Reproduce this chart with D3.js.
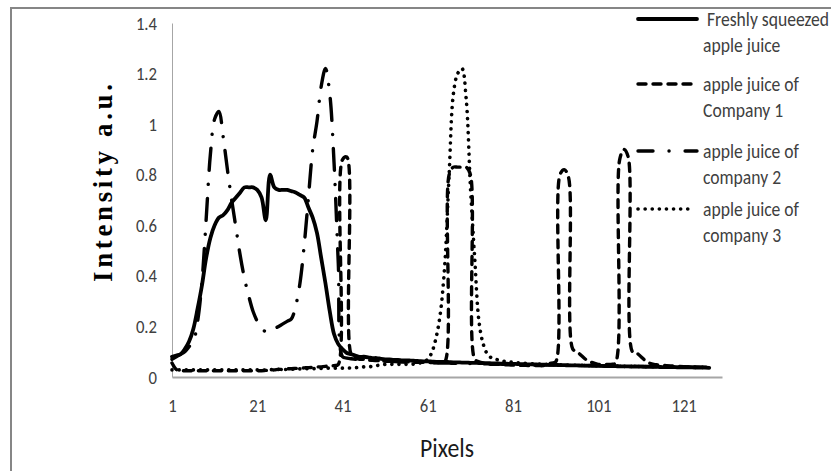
<!DOCTYPE html>
<html>
<head>
<meta charset="utf-8">
<script src="https://cdn.jsdelivr.net/npm/d3@7"></script>
<style>
	body { margin: 0; background: #fff; }
</style>
</head>
<body>
<div id="chart"></div>
<script>
// intensity profiles, one value per pixel (pixel 1 .. 127)
var freshJuice = [
	0.08, 0.085, 0.09, 0.11, 0.14, 0.19, 0.27, 0.36, 0.47, 0.55,
	0.6, 0.63, 0.64, 0.66, 0.69, 0.71, 0.73, 0.75, 0.75, 0.75,
	0.74, 0.71, 0.62, 0.8, 0.75, 0.74, 0.74, 0.74, 0.735, 0.73,
	0.72, 0.71, 0.67, 0.63, 0.57, 0.47, 0.37, 0.26, 0.17, 0.13,
	0.11, 0.095, 0.09, 0.085, 0.08, 0.08, 0.078, 0.075, 0.075, 0.072,
	0.07, 0.07, 0.068, 0.068, 0.066, 0.066, 0.065, 0.064, 0.063, 0.062,
	0.062, 0.061, 0.06, 0.06, 0.06, 0.059, 0.058, 0.058, 0.057, 0.057,
	0.056, 0.056, 0.055, 0.055, 0.055, 0.054, 0.054, 0.053, 0.053, 0.052,
	0.052, 0.051, 0.051, 0.05, 0.05, 0.05, 0.049, 0.049, 0.048, 0.048,
	0.048, 0.047, 0.047, 0.046, 0.046, 0.046, 0.045, 0.045, 0.045, 0.044,
	0.044, 0.044, 0.043, 0.043, 0.043, 0.042, 0.042, 0.042, 0.041, 0.041,
	0.041, 0.04, 0.04, 0.04, 0.04, 0.039, 0.039, 0.039, 0.039, 0.038,
	0.038, 0.038, 0.038, 0.037, 0.037, 0.037, 0.036
];

var company1 = [
	0.055, 0.03, 0.025, 0.025, 0.025, 0.025, 0.025, 0.025, 0.025, 0.025,
	0.025, 0.025, 0.025, 0.025, 0.025, 0.025, 0.025, 0.025, 0.025, 0.025,
	0.025, 0.025, 0.026, 0.027, 0.028, 0.03, 0.03, 0.032, 0.033, 0.034,
	0.035, 0.036, 0.037, 0.038, 0.04, 0.04, 0.042, 0.045, 0.045, 0.05,
	0.86, 0.87, 0.09, 0.075, 0.07, 0.07, 0.068, 0.066, 0.065, 0.064,
	0.063, 0.062, 0.061, 0.06, 0.06, 0.06, 0.059, 0.058, 0.058, 0.058,
	0.057, 0.057, 0.057, 0.058, 0.06, 0.8, 0.83, 0.83, 0.83, 0.83,
	0.8, 0.07, 0.06, 0.055, 0.052, 0.05, 0.05, 0.05, 0.048, 0.048,
	0.047, 0.047, 0.046, 0.046, 0.045, 0.045, 0.045, 0.045, 0.05, 0.055,
	0.06, 0.8, 0.82, 0.79, 0.11, 0.1, 0.085, 0.07, 0.06, 0.055,
	0.05, 0.05, 0.05, 0.05, 0.055, 0.86, 0.9, 0.87, 0.1, 0.095,
	0.08, 0.065, 0.055, 0.05, 0.048, 0.046, 0.045, 0.044, 0.043, 0.042,
	0.041, 0.04, 0.04, 0.039, 0.038, 0.038, 0.037
];

var company2 = [
	0.07, 0.08, 0.09, 0.1, 0.12, 0.14, 0.22, 0.37, 0.62, 0.88,
	1.02, 1.05, 0.95, 0.82, 0.7, 0.59, 0.48, 0.39, 0.32, 0.26,
	0.22, 0.19, 0.18, 0.18, 0.19, 0.2, 0.21, 0.22, 0.23, 0.28,
	0.37, 0.52, 0.71, 0.9, 1.01, 1.15, 1.22, 1.12, 0.85, 0.45,
	0.08, 0.075, 0.072, 0.07, 0.07, 0.068, 0.067, 0.066, 0.065, 0.064,
	0.063, 0.062, 0.061, 0.06, 0.06, 0.059, 0.058, 0.058, 0.057, 0.057,
	0.056, 0.056, 0.056, 0.055, 0.055, 0.055, 0.054, 0.054, 0.054, 0.053,
	0.053, 0.053, 0.052, 0.052, 0.052, 0.051, 0.051, 0.051, 0.05, 0.05,
	0.05, 0.05, 0.049, 0.049, 0.049, 0.048, 0.048, 0.048, 0.048, 0.047,
	0.047, 0.047, 0.047, 0.046, 0.046, 0.046, 0.046, 0.045, 0.045, 0.045,
	0.045, 0.044, 0.044, 0.044, 0.044, 0.043, 0.043, 0.043, 0.043, 0.042,
	0.042, 0.042, 0.042, 0.041, 0.041, 0.041, 0.041, 0.04, 0.04, 0.04,
	0.04, 0.04, 0.039, 0.039, 0.039, 0.039, 0.038
];

var company3 = [
	0.028, 0.028, 0.028, 0.028, 0.028, 0.028, 0.028, 0.028, 0.028, 0.028,
	0.028, 0.028, 0.028, 0.028, 0.028, 0.028, 0.028, 0.028, 0.028, 0.028,
	0.028, 0.028, 0.028, 0.029, 0.029, 0.03, 0.03, 0.03, 0.031, 0.031,
	0.032, 0.032, 0.033, 0.033, 0.034, 0.034, 0.035, 0.035, 0.035, 0.035,
	0.035, 0.035, 0.036, 0.037, 0.038, 0.04, 0.04, 0.042, 0.045, 0.048,
	0.05, 0.05, 0.05, 0.05, 0.05, 0.05, 0.05, 0.052, 0.055, 0.06,
	0.07, 0.1, 0.16, 0.26, 0.45, 0.8, 1.12, 1.2, 1.22, 1.1,
	0.75, 0.47, 0.22, 0.13, 0.09, 0.075, 0.07, 0.065, 0.062, 0.06,
	0.058, 0.056, 0.055, 0.054, 0.053, 0.052, 0.051, 0.05, 0.05, 0.049,
	0.049, 0.048, 0.048, 0.047, 0.047, 0.046, 0.046, 0.045, 0.045, 0.045,
	0.044, 0.044, 0.044, 0.043, 0.043, 0.043, 0.042, 0.042, 0.042, 0.042,
	0.041, 0.041, 0.041, 0.041, 0.04, 0.04, 0.04, 0.04, 0.039, 0.039,
	0.039, 0.039, 0.038, 0.038, 0.038, 0.038, 0.037
];

var seriesLabels = [
	['Freshly squeezed', 'apple juice'],
	['apple juice of', 'Company 1'],
	['apple juice of', 'company 2'],
	['apple juice of', 'company 3']
];

var xTickValues = [1, 21, 41, 61, 81, 101, 121];
var yTickValues = [0, 0.2, 0.4, 0.6, 0.8, 1, 1.2, 1.4];

var width = 831;
var height = 471;
var labelFont = "Carlito, Lato, sans-serif";
// Lato is wider than the Calibri of the original, squeeze it a little
var narrow = 'scale(0.88,1)';

var svg = d3.select('#chart')
	.append('svg')
	.attr('width', width)
	.attr('height', height);

// chart frame, cut by the right and bottom edge of the picture
svg.append('rect')
	.attr('x', 11)
	.attr('y', 8)
	.attr('width', 860)
	.attr('height', 500)
	.attr('fill', 'none')
	.attr('stroke', '#868686')
	.attr('stroke-width', 2);

var x = d3.scaleLinear().domain([1, 130]).range([172, 722]);
var y = d3.scaleLinear().domain([0, 1.4]).range([377, 23]);

var xAxis = d3.axisBottom(x)
	.tickValues(xTickValues)
	.tickSize(0)
	.tickPadding(22)
	.tickFormat(function(d) { return d; });

var gx = svg.append('g')
	.attr('transform', 'translate(0,' + y(0) + ')')
	.call(xAxis);
gx.select('.domain').attr('stroke', '#a6a6a6').attr('stroke-width', 2);
gx.selectAll('text')
	.attr('font-family', labelFont)
	.attr('font-size', 19)
	.attr('fill', '#404040')
	.attr('transform', narrow);

var yAxis = d3.axisLeft(y)
	.tickValues(yTickValues)
	.tickSize(0)
	.tickPadding(17)
	.tickFormat(function(d) { return String(d); });

var gy = svg.append('g')
	.attr('transform', 'translate(' + x(1) + ',0)')
	.call(yAxis);
gy.select('.domain').attr('stroke', '#a6a6a6').attr('stroke-width', 1);
gy.selectAll('text')
	.attr('font-family', labelFont)
	.attr('font-size', 19)
	.attr('fill', '#404040')
	.attr('transform', narrow);

// axis titles
svg.append('text')
	.attr('transform', 'translate(447,457) ' + narrow)
	.attr('text-anchor', 'middle')
	.attr('font-family', labelFont)
	.attr('font-size', 27)
	.attr('fill', '#1a1a1a')
	.text('Pixels');

svg.append('text')
	.attr('transform', 'translate(112,183) rotate(-90)')
	.attr('text-anchor', 'middle')
	.attr('font-family', "'Liberation Serif', 'DejaVu Serif', serif")
	.attr('font-weight', 'bold')
	.attr('font-size', 27)
	.attr('textLength', 198)
	.attr('lengthAdjust', 'spacing')
	.attr('fill', '#000')
	.text('Intensity a.u.');

var series = [
	{values: freshJuice, dash: null, width: 3.8, legendDash: null},
	{values: company1, dash: '8,7', width: 3.4, legendDash: '8,7'},
	{values: company2, dash: '22,14,0.1,14', width: 3.4, legendDash: '15,16,0.1,16'},
	{values: company3, dash: '0.1,7', width: 3.6, legendDash: '0.1,7'}
];

var line = d3.line()
	.curve(d3.curveCatmullRom.alpha(0.5))
	.x(function(d, i) { return x(i + 1); })
	.y(function(d) { return y(d); });

svg.selectAll('.series')
	.data(series)
	.enter().append('path')
	.attr('class', 'series')
	.attr('fill', 'none')
	.attr('stroke', '#000')
	.attr('stroke-width', function(d) { return d.width; })
	.attr('stroke-linecap', 'round')
	.attr('stroke-linejoin', 'round')
	.attr('stroke-dasharray', function(d) { return d.dash; })
	.attr('d', function(d) { return line(d.values); });

// legend
var legendRows = [19, 84, 151, 209];

var legend = svg.selectAll('.legend')
	.data(series)
	.enter().append('g')
	.attr('class', 'legend')
	.attr('transform', function(d, i) { return 'translate(0,' + legendRows[i] + ')'; });

legend.append('line')
	.attr('x1', 638)
	.attr('x2', function(d, i) { return i == 3 ? 692 : 697; })
	.attr('y1', 0)
	.attr('y2', 0)
	.attr('stroke', '#000')
	.attr('stroke-width', function(d) { return d.width; })
	.attr('stroke-linecap', 'round')
	.attr('stroke-dasharray', function(d) { return d.legendDash; });

legend.each(function(d, i) {
	var g = d3.select(this);
	seriesLabels[i].forEach(function(t, k) {
		var tx = (i == 0 && k == 0) ? 707 : 703;
		g.append('text')
			.attr('transform', 'translate(' + tx + ',' + (7 + k * 26) + ') ' + narrow)
			.attr('font-family', labelFont)
			.attr('font-size', 20)
			.attr('fill', '#404040')
			.text(t);
	});
});
</script>
</body>
</html>
